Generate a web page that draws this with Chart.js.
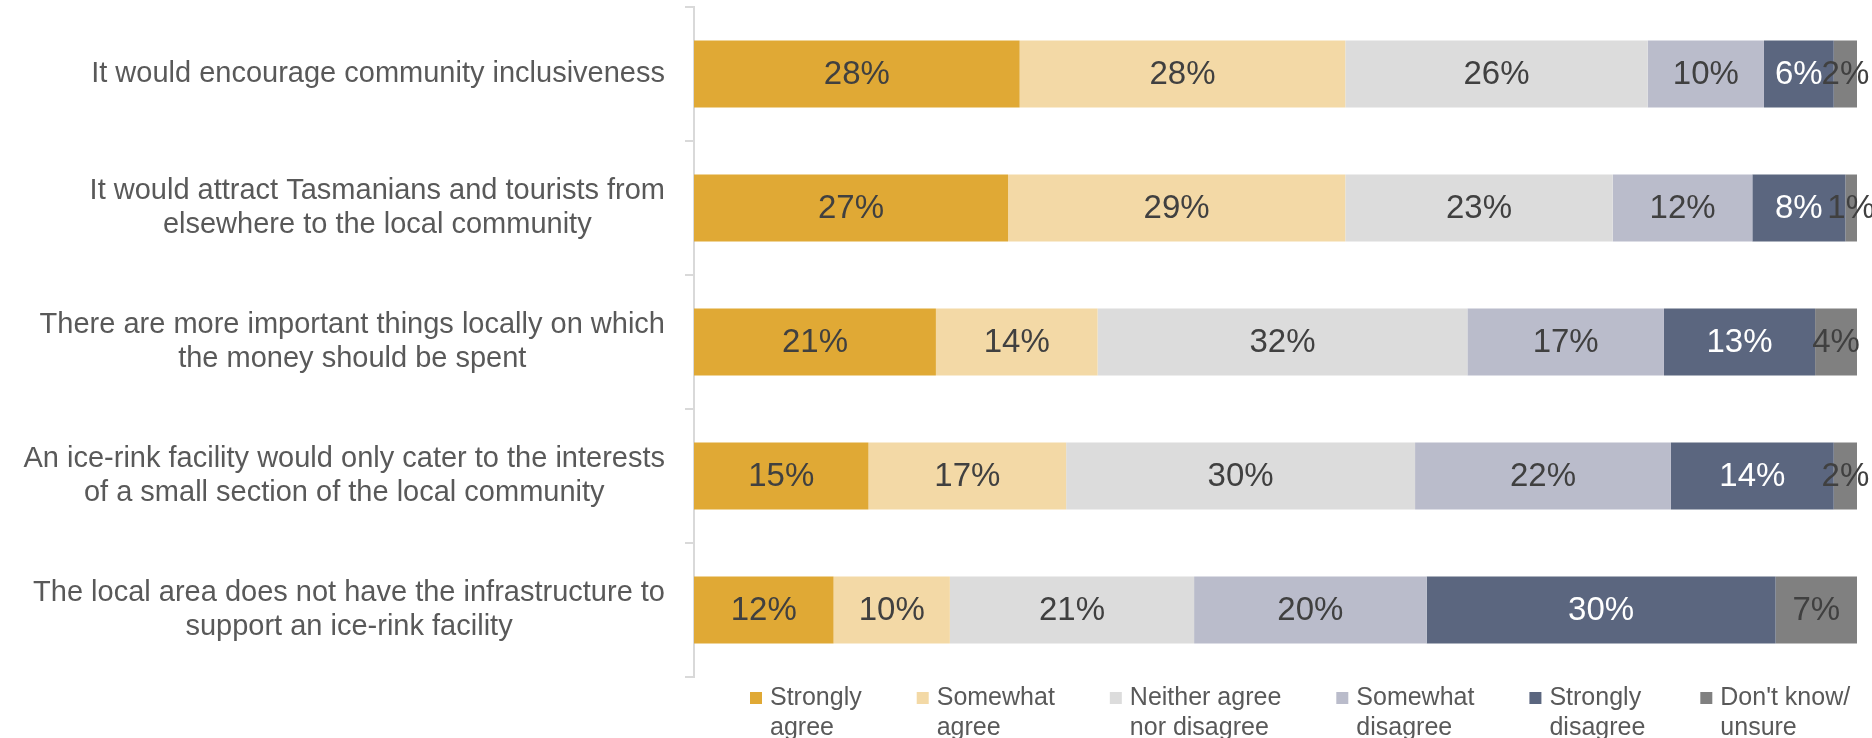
<!DOCTYPE html>
<html>
<head>
<meta charset="utf-8">
<script src="https://cdn.jsdelivr.net/npm/chart.js@4"></script>
<style>
  html, body { margin: 0; padding: 0; background: #fff; }
  #wrap { width: 1872px; height: 738px; }
</style>
</head>
<body>
<div id="wrap"><canvas id="chart"></canvas></div>
<script>
const categories = [
  ['It would encourage community inclusiveness'],
  ['It would attract Tasmanians and tourists from', 'elsewhere to the local community'],
  ['There are more important things locally on which', 'the money should be spent'],
  ['An ice-rink facility would only cater to the interests', 'of a small section of the local community'],
  ['The local area does not have the infrastructure to', 'support an ice-rink facility']
]

const seriesNames = [
  ['Strongly', 'agree'],
  ['Somewhat', 'agree'],
  ['Neither agree', 'nor disagree'],
  ['Somewhat', 'disagree'],
  ['Strongly', 'disagree'],
  ["Don't know/", 'unsure']
]

const stronglyAgree = [28, 27, 20.8, 15, 12]
const somewhatAgree = [28, 29, 13.9, 17, 10]
const neither = [26, 23, 31.8, 30, 21]
const somewhatDisagree = [10, 12, 16.9, 22, 20]
const stronglyDisagree = [6, 8, 13, 14, 30]
const dontKnow = [2, 1, 3.6, 2, 7]

const colors = ['#E0A935', '#F3D9A6', '#DCDCDC', '#BABCCB', '#5B667F', '#808080']
const labelColors = ['#404040', '#404040', '#404040', '#404040', '#ffffff', '#404040']

const FONT = '"Liberation Sans", Arial, sans-serif'

const extras = {
  id: 'extras',
  afterDatasetsDraw(chart) {
    const ctx = chart.ctx
    const area = chart.chartArea
    ctx.save()

    // values inside the segments
    ctx.font = '33px ' + FONT
    ctx.textAlign = 'center'
    ctx.textBaseline = 'middle'
    chart.data.datasets.forEach((ds, i) => {
      chart.getDatasetMeta(i).data.forEach((bar, j) => {
        ctx.fillStyle = labelColors[i]
        ctx.fillText(Math.round(ds.data[j]) + '%', (bar.x + bar.base) / 2, bar.y + 1)
      })
    })

    // category labels, right aligned block with centered lines
    const y = chart.scales.y
    ctx.font = '29px ' + FONT
    ctx.fillStyle = '#595959'
    categories.forEach((lines, j) => {
      const cy = y.getPixelForValue(j)
      const w = Math.max(...lines.map(l => ctx.measureText(l).width))
      const cx = area.left - 29 - w / 2
      lines.forEach((l, k) => {
        ctx.fillText(l, cx, cy + (k - (lines.length - 1) / 2) * 34)
      })
    })

    // legend
    ctx.font = '25px ' + FONT
    ctx.textAlign = 'left'
    let x = area.left + 56
    const ly = area.bottom + 21
    seriesNames.forEach((lines, i) => {
      ctx.fillStyle = colors[i]
      ctx.fillRect(x, ly - 6, 12, 12)
      ctx.fillStyle = '#595959'
      lines.forEach((l, k) => ctx.fillText(l, x + 20, ly + k * 30))
      const w = Math.max(...lines.map(l => ctx.measureText(l).width))
      x += 20 + w + 55
    })

    ctx.restore()
  }
}

const datasets = [stronglyAgree, somewhatAgree, neither, somewhatDisagree, stronglyDisagree, dontKnow]
  .map((data, i) => ({
    label: seriesNames[i].join(' '),
    data: data,
    backgroundColor: colors[i],
    borderWidth: 0,
    barPercentage: 0.5,
    categoryPercentage: 1
  }))

new Chart(document.getElementById('chart'), {
  type: 'bar',
  data: { labels: categories, datasets: datasets },
  options: {
    indexAxis: 'y',
    responsive: true,
    maintainAspectRatio: false,
    animation: false,
    devicePixelRatio: 1,
    layout: { padding: { left: 685, right: 15, top: 7, bottom: 61 } },
    plugins: {
      legend: { display: false },
      tooltip: { enabled: false }
    },
    scales: {
      x: { stacked: true, display: false, min: 0, max: 100 },
      y: {
        stacked: true,
        grid: { drawOnChartArea: false, drawTicks: true, tickLength: 9, color: '#d9d9d9', lineWidth: 2, offset: true },
        border: { display: true, color: '#d9d9d9', width: 2 },
        ticks: { display: false }
      }
    }
  },
  plugins: [extras]
})
</script>
</body>
</html>
